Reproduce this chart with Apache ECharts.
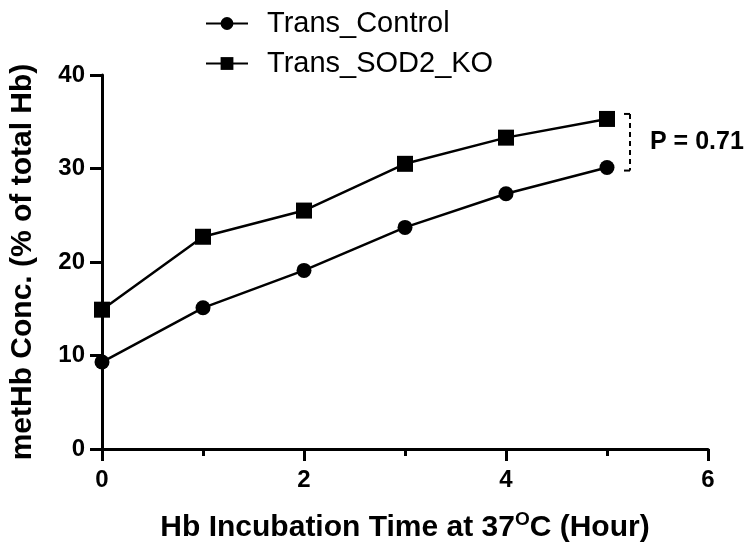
<!DOCTYPE html>
<html>
<head>
<meta charset="utf-8">
<script src="https://cdn.jsdelivr.net/npm/echarts@6/dist/echarts.min.js"></script>
<style>html,body{margin:0;padding:0;background:#fff}#c{width:750px;height:553px}</style>
</head>
<body>
<div id="c"></div>
<script>
const hours = [0, 1, 2, 3, 4, 5];
const controlValues = [9.3, 15.1, 19.1, 23.7, 27.3, 30.1];
const koValues = [14.9, 22.7, 25.5, 30.5, 33.3, 35.3];
const seriesNames = ['Trans_Control', 'Trans_SOD2_KO'];
const yTicks = [0, 10, 20, 30, 40];
const xTicks = [0, 2, 4, 6];
const pText = 'P = 0.71';

const chart = echarts.init(document.getElementById('c'));
const font = 'Arial, "Liberation Sans", sans-serif';
const toPairs = v => hours.map((h, i) => [h, v[i]]);

chart.setOption({
  animation: false,
  backgroundColor: '#fff',
  grid: { left: 102, right: 42, top: 75, bottom: 104, containLabel: false, outerBoundsMode: 'none' },
  legend: {
    orient: 'vertical', left: 200, top: 4, itemGap: 11,
    itemWidth: 42, itemHeight: 16,
    textStyle: { fontFamily: font, fontSize: 29, color: '#000', padding: [0, 0, 0, 14] },
    data: seriesNames
  },
  xAxis: {
    type: 'value', min: 0, max: 6, interval: 2,
    name: 'Hb Incubation Time at 37{sup|O}C (Hour)',
    nameLocation: 'middle', nameGap: 61,
    nameTextStyle: {
      fontFamily: font, fontSize: 30, fontWeight: 'bold', color: '#000',
      rich: { sup: { fontFamily: font, fontSize: 19, fontWeight: 'bold', color: '#000', verticalAlign: 'top', padding: [0, 0, 17, 0] } }
    },
    axisLine: { lineStyle: { color: '#000', width: 3 } },
    axisTick: { lineStyle: { color: '#000', width: 3 }, length: 12 },
    minorTick: { show: true, splitNumber: 2, length: 7, lineStyle: { color: '#000', width: 3 } },
    splitLine: { show: false },
    axisLabel: { fontFamily: font, fontSize: 24, fontWeight: 'bold', color: '#000', margin: 19 }
  },
  yAxis: {
    type: 'value', min: 0, max: 40, interval: 10,
    name: 'metHb Conc. (% of total Hb)',
    nameLocation: 'middle', nameGap: 64, nameRotate: 90,
    nameTextStyle: { fontFamily: font, fontSize: 30, fontWeight: 'bold', color: '#000' },
    axisLine: { show: true, lineStyle: { color: '#000', width: 3 } },
    axisTick: { show: true, lineStyle: { color: '#000', width: 3 }, length: 12 },
    splitLine: { show: false },
    axisLabel: { fontFamily: font, fontSize: 24, fontWeight: 'bold', color: '#000', margin: 17 }
  },
  series: [
    {
      name: seriesNames[0], type: 'line', data: toPairs(controlValues),
      symbol: 'circle', symbolSize: 15,
      lineStyle: { color: '#000', width: 2.5 }, itemStyle: { color: '#000' }, z: 3
    },
    {
      name: seriesNames[1], type: 'line', data: toPairs(koValues),
      symbol: 'rect', symbolSize: 16,
      lineStyle: { color: '#000', width: 2.5 }, itemStyle: { color: '#000' }, z: 3
    }
  ]
});

// significance bracket between last points
const last = hours.length - 1;
const pTop = chart.convertToPixel({ gridIndex: 0 }, [hours[last], koValues[last]]);
const pBot = chart.convertToPixel({ gridIndex: 0 }, [hours[last], controlValues[last]]);
const bx = pTop[0] + 23;
const yT = pTop[1] - 5, yB = pBot[1] + 3;
chart.setOption({
  graphic: [
    { type: 'line', shape: { x1: bx, y1: yT, x2: bx, y2: yB }, style: { stroke: '#000', lineWidth: 2, lineDash: [5, 4] } },
    { type: 'line', shape: { x1: bx - 6, y1: yT, x2: bx, y2: yT }, style: { stroke: '#000', lineWidth: 2 } },
    { type: 'line', shape: { x1: bx - 6, y1: yB, x2: bx, y2: yB }, style: { stroke: '#000', lineWidth: 2 } },
    { type: 'text', x: bx + 20, y: (yT + yB) / 2, style: { text: pText, font: 'bold 25px ' + font, fill: '#000', verticalAlign: 'middle' } }
  ]
});
</script>
</body>
</html>
